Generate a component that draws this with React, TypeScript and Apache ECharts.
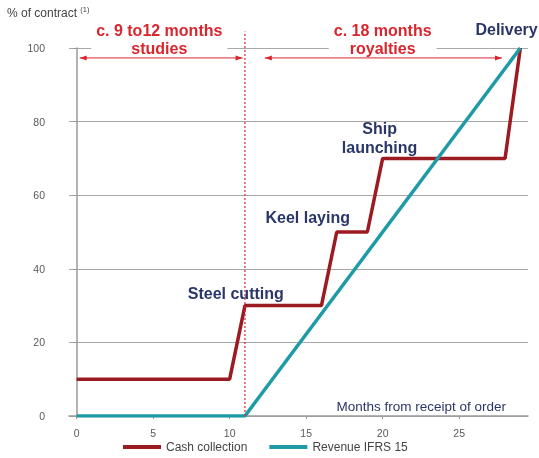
import React, { useEffect, useRef } from "react";
import * as echarts from "echarts";

// Months from receipt of order vs. cumulative % of contract
const cashMonths = [0, 10, 11, 16, 17, 19, 20, 28, 29];
const cashValues = [10, 10, 30, 30, 50, 50, 70, 70, 100];
const revenueMonths = [0, 11, 29];
const revenueValues = [0, 0, 100];
const xTicks = [0, 5, 10, 15, 20, 25];
const seriesNames = ["Cash collection", "Revenue IFRS 15"];

const milestones = [
  { name: "Steel cutting", month: 10.4, pct: 33.4 },
  { name: "Keel laying", month: 15.1, pct: 54 },
  { name: "Ship\nlaunching", month: 19.8, pct: 75.6 },
  { name: "Delivery", month: 28.1, pct: 104.9 },
];
const phases = [
  { label: "c. 9 to12 months\nstudies", month: 5.4, pct: 102.4, from: 0.2, to: 10.85 },
  { label: "c. 18 months\nroyalties", month: 20.0, pct: 102.4, from: 12.3, to: 27.8 },
];
const arrowPct = 97.3;
const phaseBoundary = 11;
const boundaryTop = 104.5;

const RED = "#9c1a21";
const TEAL = "#1f9ba7";
const BRIGHT_RED = "#d9262e";
const NAVY = "#2a3668";
const FONT = "Liberation Sans, Arial, sans-serif";

export default function App() {
  const ref = useRef<HTMLDivElement>(null);

  useEffect(() => {
    if (!ref.current) return;
    const chart = echarts.init(ref.current, undefined, { renderer: "svg" });

    const cashData = cashMonths.map((m, i) => [m, cashValues[i]]);
    const revData = revenueMonths.map((m, i) => [m, revenueValues[i]]);

    chart.setOption({
      animation: false,
      textStyle: { fontFamily: FONT },
      grid: { left: 69, right: 11, top: 48, bottom: 42 },
      xAxis: {
        type: "value",
        min: -0.5,
        max: 29.5,
        axisLine: { show: true, lineStyle: { color: "#9a9a9a", width: 1.5 } },
        axisTick: { show: true, customValues: xTicks, length: 3, lineStyle: { color: "#9a9a9a" } },
        axisLabel: { customValues: xTicks, color: "#5a5a5a", fontSize: 10.5, margin: 11 },
        splitLine: { show: false },
      },
      yAxis: {
        type: "value",
        min: 0,
        max: 100,
        interval: 20,
        axisLine: { show: true, lineStyle: { color: "#9a9a9a", width: 1.5 } },
        axisTick: { show: true, length: 4, lineStyle: { color: "#9a9a9a" } },
        axisLabel: { color: "#5a5a5a", fontSize: 10.5, margin: 24 },
        splitLine: { show: true, lineStyle: { color: "#a8a8a8", width: 1 } },
      },
      legend: {
        bottom: 0,
        left: 118,
        itemWidth: 38,
        itemHeight: 4,
        itemGap: 22,
        textStyle: { color: "#444", fontSize: 12, fontFamily: FONT },
        data: seriesNames.map((n) => ({ name: n, icon: "rect" })),
      },
      series: [
        {
          name: seriesNames[1],
          type: "line",
          data: revData,
          symbol: "none",
          itemStyle: { color: TEAL },
          lineStyle: { color: TEAL, width: 3.5 },
          z: 3,
        },
        {
          name: seriesNames[0],
          type: "line",
          data: cashData,
          symbol: "none",
          itemStyle: { color: RED },
          lineStyle: { color: RED, width: 3.5 },
          z: 2,
        },
      ],
    });

    // Annotations placed in data coordinates (some sit above the 100% line)
    const px = (m: number, v: number) =>
      chart.convertToPixel({ gridIndex: 0 }, [m, v]) as number[];

    const graphics: any[] = [
      {
        type: "text",
        left: 7,
        top: 5,
        style: {
          text: "{a|% of contract }{s|(1)}",
          rich: {
            a: { fontSize: 12, fill: "#444", fontFamily: FONT, verticalAlign: "bottom" },
            s: { fontSize: 7.5, fill: "#444", fontFamily: FONT, verticalAlign: "top", padding: [0, 0, 6, 0] },
          },
        },
      },
      {
        type: "text",
        right: 33,
        top: 399,
        style: {
          text: "Months from receipt of order",
          fill: NAVY,
          fontSize: 13.5,
          fontFamily: FONT,
        },
      },
    ];

    // phase boundary
    const b0 = px(phaseBoundary, 0);
    const b1 = px(phaseBoundary, boundaryTop);
    graphics.push({
      type: "line",
      z: 5,
      shape: { x1: b0[0], y1: b0[1], x2: b1[0], y2: b1[1] },
      style: { stroke: BRIGHT_RED, lineWidth: 1.2, lineDash: [2, 2] },
    });

    // phase labels and duration arrows
    phases.forEach((p) => {
      const c = px(p.month, p.pct);
      graphics.push({
        type: "text",
        z: 6,
        x: c[0],
        y: c[1],
        style: {
          text: p.label,
          fill: BRIGHT_RED,
          font: `bold 16px ${FONT}`,
          lineHeight: 18,
          align: "center",
          verticalAlign: "middle",
          backgroundColor: "#fff",
          padding: [0, 5],
        },
      });
      const a = px(p.from, arrowPct);
      const b = px(p.to, arrowPct);
      graphics.push({
        type: "line",
        z: 6,
        shape: { x1: a[0], y1: a[1], x2: b[0], y2: b[1] },
        style: { stroke: BRIGHT_RED, lineWidth: 1 },
      });
      [
        [a[0], 1],
        [b[0], -1],
      ].forEach(([x, dir]) => {
        graphics.push({
          type: "polygon",
          z: 6,
          shape: {
            points: [
              [x, a[1]],
              [x + dir * 7, a[1] - 2.5],
              [x + dir * 7, a[1] + 2.5],
            ],
          },
          style: { fill: BRIGHT_RED },
        });
      });
    });

    // milestone labels
    milestones.forEach((m) => {
      const c = px(m.month, m.pct);
      graphics.push({
        type: "text",
        z: 6,
        x: c[0],
        y: c[1],
        style: {
          text: m.name,
          fill: NAVY,
          font: `bold 16px ${FONT}`,
          lineHeight: 19,
          align: "center",
          verticalAlign: "middle",
        },
      });
    });

    chart.setOption({ graphic: graphics });

    return () => chart.dispose();
  }, []);

  return (
    <div
      ref={ref}
      style={{ position: "fixed", left: 0, top: 0, width: 539, height: 458 }}
    />
  );
}
